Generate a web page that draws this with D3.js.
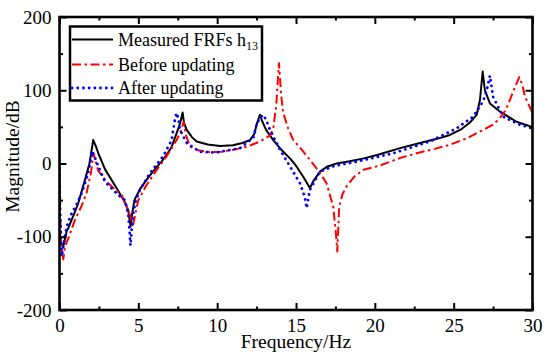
<!DOCTYPE html>
<html><head><meta charset="utf-8">
<script src="https://cdn.jsdelivr.net/npm/d3@7"></script>
<style>body{margin:0;background:#fff}svg{display:block}text{font-family:"Liberation Serif","Times New Roman",serif}</style>
</head><body><svg id="c" width="550" height="363"></svg>
<script>
const xTicks = [0, 5, 10, 15, 20, 25, 30];
const xMinor = [2.5, 7.5, 12.5, 17.5, 22.5, 27.5];
const yTicks = [-200, -100, 0, 100, 200];
const yMinor = [-150, -50, 50, 150];

const measuredFreq = [0.02,0.1,0.24,0.46,0.56,0.9,1.19,1.62,1.9,2.14,2.3,2.46,2.89,3.52,4.15,4.36,4.51,4.6,4.75,5.1,5.53,6.0,6.48,6.8,7.1,7.43,7.65,7.81,7.9,8.07,8.4,8.7,9.4,10.18,11.0,11.6,12.08,12.35,12.5,12.71,12.85,13.1,13.56,14.1,14.62,15.0,15.46,15.88,16.1,16.52,17.0,17.58,18.4,19.3,20.2,21.6,22.86,24.0,24.76,25.5,26.03,26.46,26.67,26.84,26.98,27.3,27.93,28.99,30];
const measuredMag = [-95,-108,-113,-92,-88,-70,-54,-22,0,32,24,14,-8,-30,-53,-64,-86,-70,-50,-35,-22,-9,3,12,22,41.5,55,69.6,55,46,36,30,26,24,25,28,32,40,53,66.5,58,46,32,18,7,-3,-18,-33.6,-24,-11,-4,0,3,7,12,21,28,34,39,47,56,66.5,87,125.6,100,82,71,57,49.7];

const beforeFreq = [0,0.04,0.1,0.24,0.35,0.6,0.98,1.4,1.72,2.0,2.15,2.3,2.46,3.0,3.5,3.94,4.26,4.5,4.64,4.78,5.0,5.5,6.16,6.8,7.43,7.7,7.88,8.0,8.28,8.8,9.54,10.3,11.02,11.9,12.71,13.35,13.56,13.75,13.85,13.92,14.05,14.19,14.5,14.83,15.4,15.88,16.5,16.94,17.36,17.53,17.62,17.74,17.95,18.21,18.7,19.27,20.3,21.59,22.65,23.8,24.76,25.9,26.87,27.5,27.93,28.3,28.57,28.9,29.16,29.35,29.52,30];
const beforeMag = [0,-60,-110,-131,-113,-100,-77,-58,-40,-12,14,2,-10,-25,-35,-43,-59,-72,-87,-72,-50,-30,-9,10,32,45,57,40,23,18,15.5,16,18.7,23,30,38,48,80,115,137,95,69,48,32,18,5,-12,-27,-59,-95,-120,-59,-42,-31,-18,-8.6,-3,7.4,14,20,25.5,35,46,53,62,73,87,105,118,108,91.5,69];

const afterFreq = [0,0.04,0.14,0.3,0.46,0.77,1.1,1.41,1.8,2.08,2.25,2.46,2.89,3.4,3.84,4.15,4.36,4.45,4.5,4.58,4.68,4.85,5.1,5.74,6.58,7.11,7.32,7.43,7.55,7.64,8.07,8.91,9.97,11.45,12.29,12.5,12.7,12.92,13.1,13.35,13.98,14.62,15.25,15.55,15.68,15.78,15.88,16.52,17.36,18.21,18.63,21.17,23.49,25.19,26.24,26.87,27.1,27.3,27.5,28.14,29.2,30];
const afterMag = [0,-70,-127,-105,-86,-68,-55,-40,-15,16.4,8,-4,-25,-36,-45,-50,-70,-95,-112,-90,-68,-50,-36,-13,10,32,60,69,60,46,28,16,15,21,35,53,62,66.5,60,46,19,-4,-27,-45,-61,-48,-36,-11,-4,0,1.4,14,30,48,64,85,100,120,91,64,53,48];

const seriesNames = ["Measured FRFs h", "Before updating", "After updating"];

const svg = d3.select("#c");
const L = 59.5, R = 532.5, T = 17, B = 310;
const x = d3.scaleLinear().domain([0, 30]).range([L, R]);
const y = d3.scaleLinear().domain([-200, 200]).range([B, T]);

svg.append("defs").append("clipPath").attr("id","clip")
  .append("rect").attr("x",L).attr("y",T).attr("width",R-L).attr("height",B-T);

const series = [
  {f: measuredFreq, v: measuredMag, color: "#000", dash: null, w: 2, cap: "butt"},
  {f: beforeFreq, v: beforeMag, color: "#ff0000", dash: "9,3.5,2.5,3.5", w: 2, cap: "butt"},
  {f: afterFreq, v: afterMag, color: "#0000ff", dash: "0.1,5.6", w: 2.8, cap: "round"}
];
const line = d3.line().x(d => x(d[0])).y(d => y(d[1]));
const g = svg.append("g").attr("clip-path","url(#clip)");
series.forEach(s => {
  g.append("path").datum(s.f.map((f,i)=>[f, s.v[i]]))
    .attr("d", line).attr("fill","none").attr("stroke", s.color)
    .attr("stroke-width", s.w).attr("stroke-dasharray", s.dash)
    .attr("stroke-linecap", s.cap).attr("stroke-linejoin","round");
});

function styleAxis(sel){
  sel.select(".domain").remove();
  sel.selectAll(".tick line").attr("stroke","#000").attr("stroke-width",2);
  sel.selectAll("text").attr("font-size","19px").attr("fill","#000")
     .attr("font-family",'"Liberation Serif","Times New Roman",serif');
}
// bottom
svg.append("g").attr("transform",`translate(0,${B})`)
  .call(d3.axisBottom(x).tickValues(xTicks).tickSize(-7).tickPadding(8.5).tickFormat(d3.format("d")))
  .call(styleAxis);
svg.append("g").attr("transform",`translate(0,${B})`)
  .call(d3.axisBottom(x).tickValues(xMinor).tickSize(-3.5).tickFormat(""))
  .call(styleAxis);
// top
svg.append("g").attr("transform",`translate(0,${T})`)
  .call(d3.axisTop(x).tickValues(xTicks).tickSize(-7).tickFormat("")).call(styleAxis);
svg.append("g").attr("transform",`translate(0,${T})`)
  .call(d3.axisTop(x).tickValues(xMinor).tickSize(-3.5).tickFormat("")).call(styleAxis);
// left
svg.append("g").attr("transform",`translate(${L},0)`)
  .call(d3.axisLeft(y).tickValues(yTicks).tickSize(-7).tickPadding(8).tickFormat(d3.format("d")))
  .call(styleAxis);
svg.append("g").attr("transform",`translate(${L},0)`)
  .call(d3.axisLeft(y).tickValues(yMinor).tickSize(-3.5).tickFormat("")).call(styleAxis);
// right
svg.append("g").attr("transform",`translate(${R},0)`)
  .call(d3.axisRight(y).tickValues(yTicks).tickSize(-7).tickFormat("")).call(styleAxis);
svg.append("g").attr("transform",`translate(${R},0)`)
  .call(d3.axisRight(y).tickValues(yMinor).tickSize(-3.5).tickFormat("")).call(styleAxis);

svg.selectAll(".tick text").filter(function(){return this.textContent.startsWith("−");})
  .text(function(){return "-" + this.textContent.slice(1);});

svg.append("rect").attr("x",L).attr("y",T).attr("width",R-L).attr("height",B-T)
  .attr("fill","none").attr("stroke","#000").attr("stroke-width",2.6);

// axis titles
svg.append("text").attr("x",(L+R)/2).attr("y",347.5).attr("text-anchor","middle")
  .attr("font-size","19.5px").text("Frequency/Hz");
svg.append("text").attr("transform","translate(18.5,156.5) rotate(-90)").attr("text-anchor","middle")
  .attr("font-size","19.5px").text("Magnitude/dB");

// legend
const lg = svg.append("g");
lg.append("rect").attr("x",70).attr("y",26.5).attr("width",192).attr("height",74)
  .attr("fill","#fff").attr("stroke","#000").attr("stroke-width",2.5);
const rowsY = [39.5, 64.5, 88];
series.forEach((s,i) => {
  lg.append("line").attr("x1",72).attr("x2",113).attr("y1",rowsY[i]).attr("y2",rowsY[i])
    .attr("stroke",s.color).attr("stroke-width",s.w).attr("stroke-dasharray",s.dash)
    .attr("stroke-linecap",s.cap);
  const t = lg.append("text").attr("x",118).attr("y",rowsY[i]+6).attr("font-size","18px").text(seriesNames[i]);
  if (i === 0) t.append("tspan").attr("font-size","12px").attr("dy",4).text("13");
});
</script></body></html>
